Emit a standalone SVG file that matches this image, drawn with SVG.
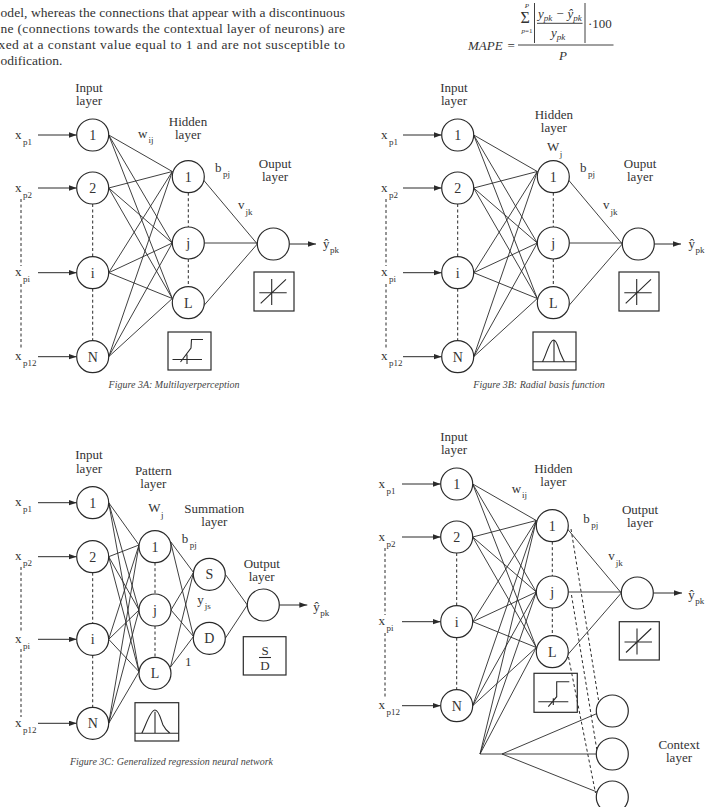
<svg xmlns="http://www.w3.org/2000/svg" width="714" height="807" viewBox="0 0 714 807">
<defs>
<marker id="ah" markerWidth="8" markerHeight="6" refX="8" refY="2.75" orient="auto" markerUnits="userSpaceOnUse">
<path d="M0 0L8 2.75L0 5.5z" fill="#2a2a2a"/>
</marker>
</defs>
<style>
text{font-family:"Liberation Serif","Times New Roman",serif;fill:#333}
.p{font-size:13px}
.pp{font-size:13.5px}
.l{font-size:13px;text-anchor:middle}
.n{font-size:14px;text-anchor:middle}
.s{font-size:9px}
.i{font-style:italic}
.cap{font-size:10px;font-style:italic;text-anchor:middle;fill:#444}
circle{fill:#fff;stroke:#2a2a2a;stroke-width:1.2}
.e{stroke:#2a2a2a;stroke-width:0.9;fill:none}
.a{stroke:#2a2a2a;stroke-width:1;fill:none;marker-end:url(#ah)}
.d{stroke:#2a2a2a;stroke-width:1;fill:none;stroke-dasharray:3 2.5}
.bx{fill:none;stroke:#2a2a2a;stroke-width:1.2}
.ic{fill:none;stroke:#2a2a2a;stroke-width:1.1}
</style>
<rect width="714" height="807" fill="#fff"/>

<g id="para">
<text class="pp" x="0.5" y="16.5" textLength="344.5" lengthAdjust="spacing">odel, whereas the connections that appear with a discontinuous</text>
<text class="pp" x="0.5" y="32.5" textLength="344.5" lengthAdjust="spacing">ne (connections towards the contextual layer of neurons) are</text>
<text class="pp" x="-1.5" y="48.5" textLength="346.5" lengthAdjust="spacing">xed at a constant value equal to 1 and are not susceptible to</text>
<text class="pp" x="0.5" y="64.5">odification.</text>
</g>

<g id="mape">
<text class="p i" x="468" y="49.5">MAPE</text>
<text class="p" x="507.5" y="49.5">=</text>
<path class="e" d="M518 45H613.5"/>
<text class="p i" x="563" y="60" text-anchor="middle">P</text>
<text x="520.5" y="23" style="font-size:16px">Σ</text>
<text class="i" x="527" y="8" style="font-size:7px" text-anchor="middle">P</text>
<text x="527" y="33" style="font-size:7px" text-anchor="middle"><tspan font-style="italic">p</tspan>=1</text>
<path class="e" d="M534.5 3V43M585 3V43"/>
<text class="p i" x="538" y="18">y<tspan class="s" dy="3">pk</tspan><tspan dy="-3"> − ŷ</tspan><tspan class="s" dy="3">pk</tspan></text>
<path class="e" d="M537 23.3H582.5"/>
<text class="p i" x="551" y="37">y<tspan class="s" dy="3">pk</tspan></text>
<text class="p" x="588" y="28">·100</text>
</g>

<!-- Figure 3A -->
<g id="fig3a">
<g id="a-conn">
<path class="a" d="M38 135H76.7"/>
<path class="a" d="M38 188H76.7"/>
<path class="a" d="M38 272.7H76.7"/>
<path class="a" d="M38 356.7H76.7"/>
<path class="d" d="M21 199V266M21 284V350"/>
<path class="d" d="M92.7 204V256.7M92.7 288.7V340.7"/>
<path class="d" d="M188.3 192.7V227M188.3 259V286.7"/>
<path class="e" d="M108.7 135L172.3 171.5M108.7 135L172.3 243M108.7 135L172.3 298.5"/>
<path class="e" d="M108.7 188L172.3 171.5M108.7 188L172.3 243M108.7 188L172.3 298.5"/>
<path class="e" d="M108.7 272.7L172.3 171.5M108.7 272.7L172.3 243M108.7 272.7L172.3 298.5"/>
<path class="e" d="M108.7 356.7L172.3 171.5M108.7 356.7L172.3 243M108.7 356.7L172.3 298.5"/>
<path class="e" d="M203.5 180L257.3 244M204.3 243H257.3M203.5 306L257.3 244"/>
<path class="a" d="M289.3 244H316"/>
</g>
<g id="a-in1"><circle cx="92.7" cy="135" r="16"/><text class="n" x="92.7" y="140">1</text></g>
<g id="a-in2"><circle cx="92.7" cy="188" r="16"/><text class="n" x="92.7" y="193">2</text></g>
<g id="a-ini"><circle cx="92.7" cy="272.7" r="16"/><text class="n" x="92.7" y="277.7">i</text></g>
<g id="a-inN"><circle cx="92.7" cy="356.7" r="16"/><text class="n" x="92.7" y="361.7">N</text></g>
<g id="a-h1"><circle cx="188.3" cy="176.7" r="16"/><text class="n" x="188.3" y="181.7">1</text></g>
<g id="a-hj"><circle cx="188.3" cy="243" r="16"/><text class="n" x="188.3" y="248">j</text></g>
<g id="a-hL"><circle cx="188.3" cy="302.7" r="16"/><text class="n" x="188.3" y="307.7">L</text></g>
<g id="a-out"><circle cx="273.3" cy="244" r="16"/></g>
<g id="a-labels">
<text class="p" x="15" y="138.5">x<tspan class="s" dx="1.5" dy="6">p1</tspan></text>
<text class="p" x="15" y="191.5">x<tspan class="s" dx="1.5" dy="6">p2</tspan></text>
<text class="p" x="15" y="276">x<tspan class="s" dx="1.5" dy="6">pi</tspan></text>
<text class="p" x="15" y="360">x<tspan class="s" dx="1.5" dy="6">p12</tspan></text>
<text class="l" x="89" y="91.7">Input</text><text class="l" x="89" y="104.5">layer</text>
<text class="l" x="188" y="126">Hidden</text><text class="l" x="188" y="139">layer</text>
<text class="l" x="275" y="168">Ouput</text><text class="l" x="275" y="181">layer</text>
<text class="p" x="138" y="138.3">w<tspan class="s" dx="1" dy="5">ij</tspan></text>
<text class="p" x="215" y="171.7">b<tspan class="s" dx="1.5" dy="5">pj</tspan></text>
<text class="p" x="238" y="209.3">v<tspan class="s" dx="1" dy="6">jk</tspan></text>
<text class="p" x="323" y="248.3">ŷ<tspan class="s" dx="0.5" dy="5">pk</tspan></text>
</g>
<g id="a-outbox"><rect class="bx" x="254" y="272" width="40" height="39"/><path class="ic" d="M259.3 292.7H286.7M271.7 279V305M260.7 303.3L286 279.3"/></g>
<g id="a-hbox"><rect class="bx" x="168" y="332" width="43" height="38"/><path class="ic" d="M172.5 359.5H202M187 354.5V364M180.5 362L191 348L191.5 339.5H203"/></g>
<text class="cap" x="174" y="388">Figure 3A: Multilayerperception</text>
</g>

<!-- Figure 3B -->
<g id="fig3b" transform="translate(365 0)">
<g id="b-conn">
<path class="a" d="M38 135H76.7"/>
<path class="a" d="M38 188H76.7"/>
<path class="a" d="M38 272.7H76.7"/>
<path class="a" d="M38 356.7H76.7"/>
<path class="d" d="M21 199V266M21 284V350"/>
<path class="d" d="M92.7 204V256.7M92.7 288.7V340.7"/>
<path class="d" d="M188.3 192.7V227M188.3 259V286.7"/>
<path class="e" d="M108.7 135L172.3 171.5M108.7 135L172.3 243M108.7 135L172.3 298.5"/>
<path class="e" d="M108.7 188L172.3 171.5M108.7 188L172.3 243M108.7 188L172.3 298.5"/>
<path class="e" d="M108.7 272.7L172.3 171.5M108.7 272.7L172.3 243M108.7 272.7L172.3 298.5"/>
<path class="e" d="M108.7 356.7L172.3 171.5M108.7 356.7L172.3 243M108.7 356.7L172.3 298.5"/>
<path class="e" d="M203.5 180L257.3 244M204.3 243H257.3M203.5 306L257.3 244"/>
<path class="a" d="M289.3 244H316"/>
</g>
<g id="b-in1"><circle cx="92.7" cy="135" r="16"/><text class="n" x="92.7" y="140">1</text></g>
<g id="b-in2"><circle cx="92.7" cy="188" r="16"/><text class="n" x="92.7" y="193">2</text></g>
<g id="b-ini"><circle cx="92.7" cy="272.7" r="16"/><text class="n" x="92.7" y="277.7">i</text></g>
<g id="b-inN"><circle cx="92.7" cy="356.7" r="16"/><text class="n" x="92.7" y="361.7">N</text></g>
<g id="b-h1"><circle cx="188.3" cy="176.7" r="16"/><text class="n" x="188.3" y="181.7">1</text></g>
<g id="b-hj"><circle cx="188.3" cy="243" r="16"/><text class="n" x="188.3" y="248">j</text></g>
<g id="b-hL"><circle cx="188.3" cy="302.7" r="16"/><text class="n" x="188.3" y="307.7">L</text></g>
<g id="b-out"><circle cx="273.3" cy="244" r="16"/></g>
<g id="b-labels">
<text class="p" x="16" y="138.5">x<tspan class="s" dx="1.5" dy="6">p1</tspan></text>
<text class="p" x="16" y="191.5">x<tspan class="s" dx="1.5" dy="6">p2</tspan></text>
<text class="p" x="16" y="276">x<tspan class="s" dx="1.5" dy="6">pi</tspan></text>
<text class="p" x="16" y="360">x<tspan class="s" dx="1.5" dy="6">p12</tspan></text>
<text class="l" x="89" y="91.7">Input</text><text class="l" x="89" y="104.5">layer</text>
<text class="l" x="188.8" y="119">Hidden</text><text class="l" x="188.8" y="132">layer</text>
<text class="p" x="182" y="150.7">W<tspan class="s" dx="0.5" dy="6.5">j</tspan></text>
<text class="l" x="275" y="168">Ouput</text><text class="l" x="275" y="181">layer</text>
<text class="p" x="215" y="171.7">b<tspan class="s" dx="1.5" dy="5">pj</tspan></text>
<text class="p" x="238" y="209.3">v<tspan class="s" dx="1" dy="6">jk</tspan></text>
<text class="p" x="323.5" y="248.3">ŷ<tspan class="s" dx="0.5" dy="5">pk</tspan></text>
</g>
<g id="b-outbox"><rect class="bx" x="254" y="272" width="40" height="39"/><path class="ic" d="M259.3 292.7H286.7M271.7 279V305M260.7 303.3L286 279.3"/></g>
<g id="b-hbox"><rect class="bx" x="168" y="332" width="43" height="38"/><path class="ic" d="M168 361.7H211M189 340.5V361.7M177.5 361.7C181 356 184.5 340 188.5 340C192 340 193.5 349 195.5 353.5C197 357 198 359.5 199.5 361.7"/></g>
<text class="cap" x="174" y="388">Figure 3B: Radial basis function</text>
</g>

<!-- Figure 3C -->
<g id="fig3c">
<g id="c-conn">
<path class="a" d="M38 502.7H76.7"/>
<path class="a" d="M38 556.7H76.7"/>
<path class="a" d="M38 639.3H76.7"/>
<path class="a" d="M38 723.3H76.7"/>
<path class="d" d="M21 567V631M21 649V717"/>
<path class="d" d="M92.7 572.7V623.3M92.7 655.3V707.3"/>
<path class="d" d="M155 562.7V594M155 626V657.3"/>
<path class="e" d="M108.7 502.7L139 545M108.7 502.7L139 610M108.7 502.7L139 671.7"/>
<path class="e" d="M108.7 556.7L139 545M108.7 556.7L139 610M108.7 556.7L139 671.7"/>
<path class="e" d="M108.7 639.3L139 545M108.7 639.3L139 610M108.7 639.3L139 671.7"/>
<path class="e" d="M108.7 723.3L139 545M108.7 723.3L139 610M108.7 723.3L139 671.7"/>
<path class="e" d="M170.5 541.5L193.5 572.5M170.5 541.5L193.5 636.5"/>
<path class="e" d="M171 610L193.5 572.5M171 610L193.5 636.5"/>
<path class="e" d="M170.5 667L193.5 572.5M170.5 667L193.5 636.5"/>
<path class="e" d="M225.3 574.3L247.3 605M225.3 638.3L247.3 605"/>
<path class="a" d="M279.3 605H307.3"/>
</g>
<g id="c-in1"><circle cx="92.7" cy="502.7" r="16"/><text class="n" x="92.7" y="507.7">1</text></g>
<g id="c-in2"><circle cx="92.7" cy="556.7" r="16"/><text class="n" x="92.7" y="561.7">2</text></g>
<g id="c-ini"><circle cx="92.7" cy="639.3" r="16"/><text class="n" x="92.7" y="644.3">i</text></g>
<g id="c-inN"><circle cx="92.7" cy="723.3" r="16"/><text class="n" x="92.7" y="728.3">N</text></g>
<g id="c-p1"><circle cx="155" cy="546.7" r="16"/><text class="n" x="155" y="551.7">1</text></g>
<g id="c-pj"><circle cx="155" cy="610" r="16"/><text class="n" x="155" y="615">j</text></g>
<g id="c-pL"><circle cx="155" cy="673.3" r="16"/><text class="n" x="155" y="678.3">L</text></g>
<g id="c-S"><circle cx="209.3" cy="574.3" r="16"/><text class="n" x="209.3" y="579.3">S</text></g>
<g id="c-D"><circle cx="209.3" cy="638.3" r="16"/><text class="n" x="209.3" y="643.3">D</text></g>
<g id="c-out"><circle cx="263.3" cy="605" r="16"/></g>
<g id="c-labels">
<text class="p" x="15" y="506.2">x<tspan class="s" dx="1.5" dy="6">p1</tspan></text>
<text class="p" x="15" y="560.2">x<tspan class="s" dx="1.5" dy="6">p2</tspan></text>
<text class="p" x="15" y="642.8">x<tspan class="s" dx="1.5" dy="6">pi</tspan></text>
<text class="p" x="15" y="726.8">x<tspan class="s" dx="1.5" dy="6">p12</tspan></text>
<text class="l" x="89" y="459.3">Input</text><text class="l" x="89" y="472.7">layer</text>
<text class="l" x="153.3" y="475">Pattern</text><text class="l" x="153.3" y="488.3">layer</text>
<text class="p" x="148.3" y="511.7">W<tspan class="s" dx="0.5" dy="6.5">j</tspan></text>
<text class="l" x="214.3" y="512.7">Summation</text><text class="l" x="214.3" y="525.5">layer</text>
<text class="p" x="181.7" y="542.7">b<tspan class="s" dx="1.5" dy="5">pj</tspan></text>
<text class="p" x="197.3" y="604.3">y<tspan class="s" dx="1" dy="5">js</tspan></text>
<text class="l" x="188.3" y="666">1</text>
<text class="l" x="261.7" y="568">Output</text><text class="l" x="261.7" y="581">layer</text>
<text class="p" x="313.3" y="610.5">ŷ<tspan class="s" dx="0.5" dy="5">pk</tspan></text>
</g>
<g id="c-outbox"><rect class="bx" x="243.3" y="636.7" width="42.7" height="38.3"/><text class="l" x="265" y="655">S</text><path class="ic" d="M259 657.5H271"/><text class="l" x="265" y="669.5">D</text></g>
<g id="c-pbox"><rect class="bx" x="135" y="702.7" width="43.7" height="38.3"/><path class="ic" d="M135 733.3H178.7M155 711.7V733.3M141.7 733.3C145 728 150 710 155 710C159 710 161 720 163 725C165 729 167 731 170 733.3"/></g>
<text class="cap" x="171.5" y="765">Figure 3C: Generalized regression neural network</text>
</g>

<!-- Figure 3D -->
<g id="fig3d">
<g id="d-ctx-conn">
<path class="e" d="M480 754L536.3 520.5M480 754L536.3 592M480 754L536.3 647.5"/>
<path class="e" d="M480 754H596.3"/>
<path class="e" d="M502 754L597 713.5M502 754L597 792"/>
<path class="d" d="M571 529L598.5 700"/>
<path class="d" d="M571.5 595L596.8 749.5"/>
<path class="d" d="M568.5 657L595.5 793"/>
</g>
<g transform="translate(364 349)">
<g id="d-conn">
<path class="a" d="M38 135H76.7"/>
<path class="a" d="M38 188H76.7"/>
<path class="a" d="M38 272.7H76.7"/>
<path class="a" d="M38 356.7H76.7"/>
<path class="d" d="M21 199V266M21 284V350"/>
<path class="d" d="M92.7 204V256.7M92.7 288.7V340.7"/>
<path class="d" d="M188.3 192.7V227M188.3 259V286.7"/>
<path class="e" d="M108.7 135L172.3 171.5M108.7 135L172.3 243M108.7 135L172.3 298.5"/>
<path class="e" d="M108.7 188L172.3 171.5M108.7 188L172.3 243M108.7 188L172.3 298.5"/>
<path class="e" d="M108.7 272.7L172.3 171.5M108.7 272.7L172.3 243M108.7 272.7L172.3 298.5"/>
<path class="e" d="M108.7 356.7L172.3 171.5M108.7 356.7L172.3 243M108.7 356.7L172.3 298.5"/>
<path class="e" d="M203.5 180L257.3 244M204.3 243H257.3M203.5 306L257.3 244"/>
<path class="a" d="M289.3 244H318"/>
</g>
<g id="d-in1"><circle cx="92.7" cy="135" r="16"/><text class="n" x="92.7" y="140">1</text></g>
<g id="d-in2"><circle cx="92.7" cy="188" r="16"/><text class="n" x="92.7" y="193">2</text></g>
<g id="d-ini"><circle cx="92.7" cy="272.7" r="16"/><text class="n" x="92.7" y="277.7">i</text></g>
<g id="d-inN"><circle cx="92.7" cy="356.7" r="16"/><text class="n" x="92.7" y="361.7">N</text></g>
<g id="d-h1"><circle cx="188.3" cy="176.7" r="16"/><text class="n" x="188.3" y="181.7">1</text></g>
<g id="d-hj"><circle cx="188.3" cy="243" r="16"/><text class="n" x="188.3" y="248">j</text></g>
<g id="d-hL"><circle cx="188.3" cy="302.7" r="16"/><text class="n" x="188.3" y="307.7">L</text></g>
<g id="d-out"><circle cx="273.3" cy="244" r="16"/></g>
<g id="d-labels">
<text class="p" x="14.5" y="138.5">x<tspan class="s" dx="1.5" dy="6">p1</tspan></text>
<text class="p" x="14.5" y="191.5">x<tspan class="s" dx="1.5" dy="6">p2</tspan></text>
<text class="p" x="14.5" y="276">x<tspan class="s" dx="1.5" dy="6">pi</tspan></text>
<text class="p" x="14.5" y="360">x<tspan class="s" dx="1.5" dy="6">p12</tspan></text>
<text class="l" x="90" y="91.7">Input</text><text class="l" x="90" y="104.5">layer</text>
<text class="l" x="189.3" y="124">Hidden</text><text class="l" x="189.3" y="137">layer</text>
<text class="l" x="276" y="165">Output</text><text class="l" x="276" y="178">layer</text>
<text class="p" x="147.7" y="144.3">w<tspan class="s" dx="1" dy="5">ij</tspan></text>
<text class="p" x="219.3" y="173.7">b<tspan class="s" dx="1.5" dy="5">pj</tspan></text>
<text class="p" x="244.3" y="211">v<tspan class="s" dx="1" dy="6">jk</tspan></text>
<text class="p" x="324.3" y="250.3">ŷ<tspan class="s" dx="0.5" dy="5">pk</tspan></text>
</g>
<g id="d-outbox"><rect class="bx" x="255.3" y="272.7" width="40" height="38.3"/><path class="ic" d="M260.5 293H288M273 279.5V305.5M262 303.5L287.3 279.5"/></g>
<g id="d-hbox"><rect class="bx" x="170" y="324.3" width="43.3" height="39"/><path class="ic" d="M174.3 352.7H204.3M189.3 349.3V356M184.3 357.7L192.7 347.7V332.7H205.3"/></g>
</g>
<g id="d-c1"><circle cx="612.3" cy="711" r="16"/></g>
<g id="d-c2"><circle cx="612.3" cy="754" r="16"/></g>
<g id="d-c3"><circle cx="612.3" cy="797" r="16"/></g>
<text class="l" x="679" y="748.5">Context</text><text class="l" x="679" y="761.5">layer</text>
</g>
</svg>
